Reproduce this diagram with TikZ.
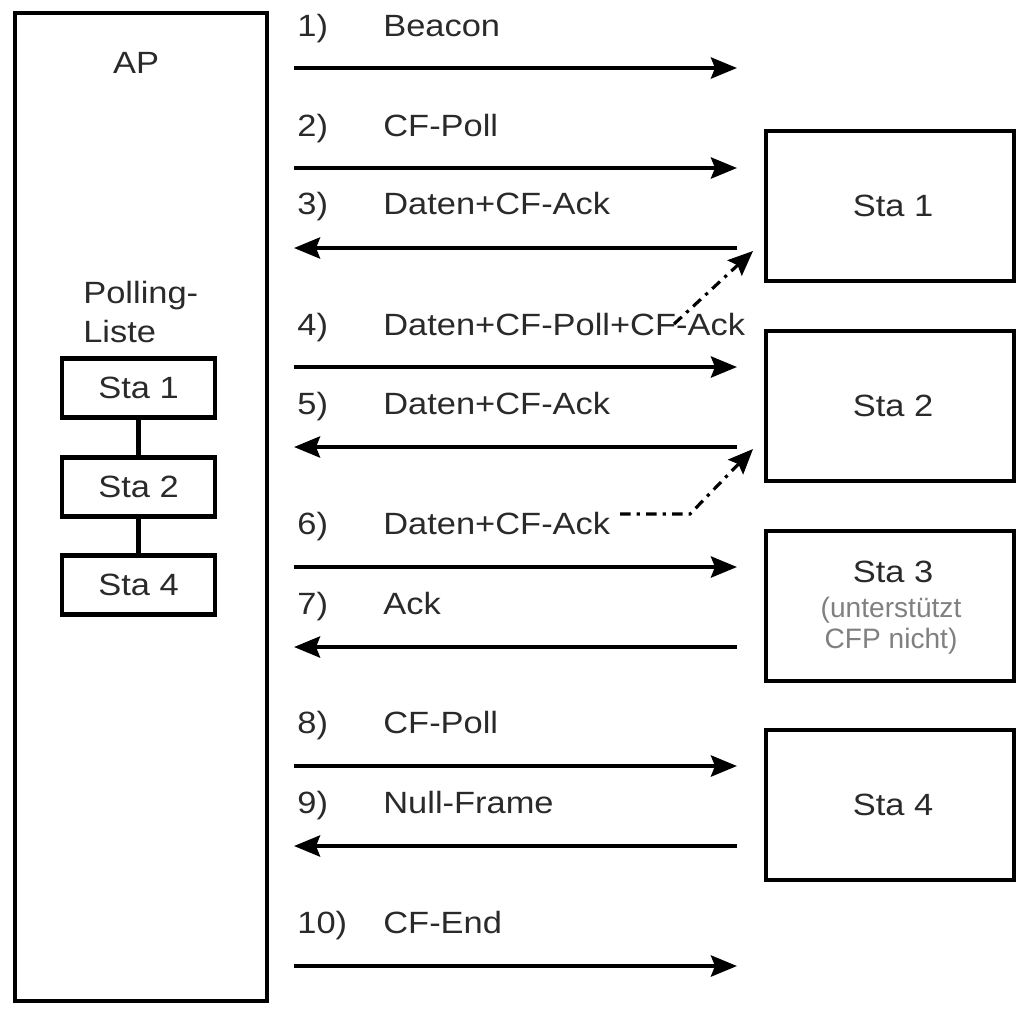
\documentclass[tikz,border=0pt]{standalone}
\usepackage{fontspec}
\setmainfont{Liberation Sans}[FakeStretch=1.12]
\newfontfamily\plainsans{Liberation Sans}
\usetikzlibrary{arrows.meta}
\definecolor{txt}{HTML}{2A2A2A}
\definecolor{graytxt}{HTML}{808080}
\begin{document}
\begin{tikzpicture}[x=0.02cm,y=-0.02cm,
  lbl/.style={anchor=base west,inner sep=0pt,text=txt,font=\fontsize{17.5}{20}\selectfont},
  ctr/.style={inner sep=0pt,text=txt,font=\fontsize{17.5}{20}\selectfont},
  bigbox/.style={draw,line width=2.4pt,minimum width=5.04cm,minimum height=19.76cm,inner sep=0pt},
  stabox/.style={draw,line width=2.4pt,minimum width=4.96cm,minimum height=3.0cm,inner sep=0pt},
  listbox/.style={draw,line width=2.4pt,minimum width=3.06cm,minimum height=1.18cm,inner sep=0pt,text=txt,font=\fontsize{17.5}{20}\selectfont},
  msg/.style={line width=2.4pt,-{Stealth[length=0.52cm,width=0.42cm,inset=0.08cm]}},
  ddarrow/.style={line width=1.8pt,dash pattern=on 6pt off 3.5pt on 1.8pt off 3.5pt,-{Stealth[length=0.5cm,width=0.42cm,inset=0.08cm]}}]
\useasboundingbox (0,0) rectangle (1016,1008);
% AP
\node[bigbox] (ap) at (141,507) {};
\node[ctr,anchor=base] (aplbl) at (136,73) {AP};
\node[lbl] (poll1) at (83,303) {Polling-};
\node[lbl] (poll2) at (83,342) {Liste};
\node[listbox] (p1) at (138.5,388) {Sta 1};
\node[listbox] (p2) at (138.5,487) {Sta 2};
\node[listbox] (p4) at (138.5,585) {Sta 4};
\draw[line width=2.4pt] (p1.south) -- (p2.north);
\draw[line width=2.4pt] (p2.south) -- (p4.north);
% stations
\node[stabox] (s1) at (890,206) {};
\node[stabox] (s2) at (890,406) {};
\node[stabox] (s3) at (890,606) {};
\node[stabox] (s4) at (890,805) {};
\node[ctr] (s1t) at (893,206) {Sta 1};
\node[ctr] (s2t) at (893,406) {Sta 2};
\node[ctr,anchor=base] (s3t) at (893,582) {Sta 3};
\node[anchor=base,inner sep=0pt,text=graytxt,font=\plainsans\fontsize{16}{18}\selectfont] (s3a) at (891,617) {(unterstützt};
\node[anchor=base,inner sep=0pt,text=graytxt,font=\plainsans\fontsize{16}{18}\selectfont] (s3b) at (891,648) {CFP nicht)};
\node[ctr] (s4t) at (893,805) {Sta 4};
% messages
\foreach \i/\y/\b/\n/\t/\dir in {1/68/36/1)/Beacon/r,
  2/168/136/2)/CF-Poll/r,
  3/248/214/3)/Daten+CF-Ack/l,
  4/367/335/4)/Daten+CF-Poll+CF-Ack/r,
  5/447/414/5)/Daten+CF-Ack/l,
  6/567/534/6)/Daten+CF-Ack/r,
  7/647/614/7)/Ack/l,
  8/766/733/8)/CF-Poll/r,
  9/846/813/9)/Null-Frame/l,
  10/966/933/10)/CF-End/r}{
  \coordinate (L\i) at (294,\y);
  \coordinate (R\i) at (737,\y);
  \node[lbl] (num\i) at (297,\b) {\n};
  \node[lbl] (txt\i) at (383,\b) {\t};
  \if r\dir
    \draw[msg] (L\i) -- (R\i);
  \else
    \draw[msg] (R\i) -- (L\i);
  \fi
}
% dash-dot arrows
\coordinate (d1s) at (674,324);
\coordinate (d1e) at (753,251);
\draw[ddarrow] (d1s) -- (d1e);
\coordinate (d2s) at (620,514);
\coordinate (d2m) at (690,514);
\coordinate (d2e) at (753,449);
\draw[ddarrow] (d2s) -- (d2m) -- (d2e);
\end{tikzpicture}
\end{document}
